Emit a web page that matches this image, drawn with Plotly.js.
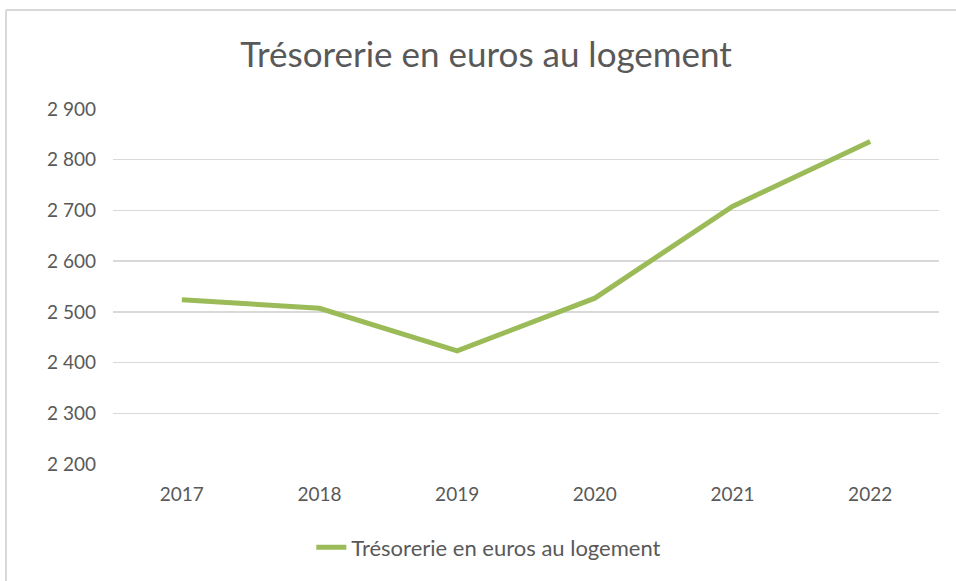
<!DOCTYPE html>
<html>
<head>
<meta charset="utf-8">
<script src="https://cdn.plot.ly/plotly-3.0.1.min.js"></script>
<style>html,body{margin:0;padding:0;background:#fff;}#chart{width:956px;height:581px;}</style>
</head>
<body>
<div id="chart"></div>
<script>
var years = ["2017", "2018", "2019", "2020", "2021", "2022"];
var tresorerie = [2524, 2507, 2423, 2527, 2708, 2836];
var seriesName = "Trésorerie en euros au logement";
var chartTitle = "Trésorerie en euros au logement";

var FONT = "Lato, 'Open Sans', sans-serif";
var GREY = "#595959";

var trace = {
  x: years, y: tresorerie, name: seriesName,
  type: "scatter", mode: "lines",
  line: {color: "#9BBB59", width: 5},
  showlegend: true
};

var layout = {
  width: 956, height: 581,
  margin: {l: 113, r: 17, t: 109, b: 117},
  paper_bgcolor: "#fff", plot_bgcolor: "#fff",
  separators: ", ",
  font: {family: FONT, color: GREY, size: 18},
  title: {text: chartTitle, font: {family: FONT, size: 35, color: GREY},
          xref: "container", x: 0.5084, xanchor: "center",
          yref: "container", y: 0.905, yanchor: "middle"},
  xaxis: {type: "category", range: [-0.5, 5.5], showgrid: false, zeroline: false,
          showline: false, ticks: "", ticklabelstandoff: 17,
          tickfont: {family: FONT, size: 19, color: GREY}},
  yaxis: {range: [2200, 2900], dtick: 100, tick0: 2200, separatethousands: true,
          showgrid: true, gridcolor: "#d9d9d9", gridwidth: 1.5, zeroline: false,
          showline: false, ticks: "", ticklabelstandoff: 16,
          tickfont: {family: FONT, size: 19, color: GREY}},
  legend: {orientation: "h", x: 0.455, xanchor: "center", y: -0.235, yanchor: "middle",
           font: {family: FONT, size: 22, color: GREY}, bgcolor: "rgba(0,0,0,0)"},
  shapes: [
    {type: "line", xref: "paper", yref: "paper",
     x0: (6-113)/826, x1: (6-113)/826, y0: (464-10)/355, y1: (464-585)/355,
     line: {color: "#d9d9d9", width: 2}},
    {type: "line", xref: "paper", yref: "paper",
     x0: (6-113)/826, x1: (960-113)/826, y0: (464-10)/355, y1: (464-10)/355,
     line: {color: "#d9d9d9", width: 2}}
  ]
};

Plotly.newPlot("chart", [trace], layout, {displayModeBar: false, staticPlot: true});
</script>
</body>
</html>
